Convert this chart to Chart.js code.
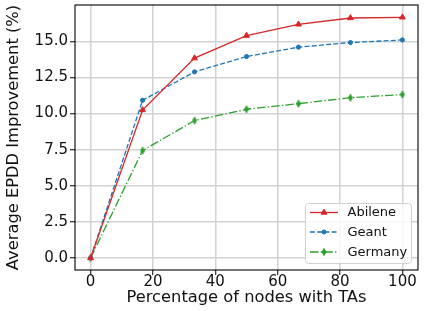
<!DOCTYPE html>
<html>
<head>
<meta charset="utf-8">
<script src="https://cdn.jsdelivr.net/npm/chart.js@4/dist/chart.umd.min.js"></script>
<style>
html,body{margin:0;padding:0;background:#fff;}
#wrap{width:427px;height:311px;position:relative;}
</style>
</head>
<body>
<div id="wrap"><canvas id="c" width="427" height="311"></canvas></div>
<script>
const xValues = [0, 16.67, 33.33, 50, 66.67, 83.33, 100];
const abilene = [0, 10.25, 13.84, 15.4, 16.18, 16.62, 16.67];
const geant = [0, 10.92, 12.89, 13.95, 14.6, 14.92, 15.1];
const germany = [0, 7.44, 9.52, 10.3, 10.69, 11.1, 11.32];
const seriesNames = ["Abilene", "Geant", "Germany"];
const xTicks = [0, 20, 40, 60, 80, 100];
const yTicks = [0, 2.5, 5, 7.5, 10, 12.5, 15];
const xLabel = "Percentage of nodes with TAs";
const yLabel = "Average EPDD Improvement (%)";

const FONT = "'DejaVu Sans'";
const TXT = '#111';

function thinDiamond(color){
  const c = document.createElement('canvas');
  c.width = 8; c.height = 10;
  const g = c.getContext('2d');
  g.fillStyle = color; g.strokeStyle = color; g.lineWidth = 1;
  g.beginPath();
  g.moveTo(4, 1.5); g.lineTo(6, 5); g.lineTo(4, 8.5); g.lineTo(2, 5); g.closePath();
  g.fill(); g.stroke();
  return c;
}

const colors = ['#d62728', '#1f77b4', '#2ca02c'];
const dashes = [[], [5, 2.2], [8.5, 2.2, 1.4, 2.2]];
const pts = ['triangle', 'circle', thinDiamond('#2ca02c')];
const radii = [3.4, 2.1, 4];
const vals = [abilene, geant, germany];

const datasets = vals.map((v, i) => ({
  label: seriesNames[i],
  data: xValues.map((x, j) => ({x: x, y: v[j]})),
  borderColor: colors[i],
  backgroundColor: colors[i],
  borderWidth: 1.3,
  borderDash: dashes[i],
  pointStyle: pts[i],
  pointRadius: radii[i],
  pointHoverRadius: radii[i],
  pointBorderWidth: 1,
  showLine: true,
  tension: 0,
  fill: false
}));

const framePlugin = {
  id: 'frame',
  afterDatasetsDraw(chart) {
    const {ctx, chartArea: a} = chart;
    ctx.save();
    ctx.strokeStyle = '#000';
    ctx.lineWidth = 1.1;
    ctx.strokeRect(a.left, a.top, a.right - a.left, a.bottom - a.top);
    // legend
    const bx = 305.5, by = 203.5, bw = 106, bh = 60, r = 3;
    ctx.fillStyle = 'rgba(255,255,255,0.8)';
    ctx.strokeStyle = '#d0d0d0';
    ctx.lineWidth = 1;
    ctx.beginPath();
    ctx.roundRect(bx, by, bw, bh, r);
    ctx.fill(); ctx.stroke();
    const rows = [212.5, 232, 252];
    chart.data.datasets.forEach((ds, i) => {
      const y = rows[i];
      ctx.strokeStyle = ds.borderColor;
      ctx.lineWidth = ds.borderWidth;
      ctx.setLineDash(ds.borderDash);
      ctx.beginPath();
      ctx.moveTo(310, y); ctx.lineTo(338, y);
      ctx.stroke();
      ctx.setLineDash([]);
      ctx.fillStyle = ds.backgroundColor;
      ctx.strokeStyle = ds.borderColor;
      ctx.lineWidth = 1;
      Chart.helpers.drawPoint(ctx, {pointStyle: ds.pointStyle, radius: ds.pointRadius, borderWidth: 1, rotation: 0}, 324, y);
      ctx.fillStyle = TXT;
      ctx.font = "13px " + FONT;
      ctx.textBaseline = 'middle';
      ctx.textAlign = 'left';
      ctx.fillText(ds.label, 347.5, y + 0.5);
    });
    ctx.restore();
  }
};

new Chart(document.getElementById('c'), {
  type: 'scatter',
  data: {datasets},
  options: {
    responsive: false,
    animation: false,
    devicePixelRatio: 1,
    layout: {padding: {top: 5, right: 9, left: 0, bottom: 0}},
    plugins: {legend: {display: false}, tooltip: {enabled: false}},
    scales: {
      x: {
        type: 'linear', min: -5, max: 105,
        afterBuildTicks: s => { s.ticks = xTicks.map(v => ({value: v})); },
        afterFit: s => { s.height = 41; s.paddingLeft = 0; s.paddingRight = 0; },
        ticks: {color: TXT, font: {family: FONT, size: 15}, padding: -2, maxRotation: 0,
          callback: v => String(v)},
        grid: {color: '#d2d2d2', lineWidth: 1.5, tickColor: '#000', tickLength: 5, tickWidth: 1},
        border: {display: false},
        title: {display: true, text: xLabel, color: TXT, font: {family: FONT, size: 16.3}, padding: {top: 0, bottom: 3}}
      },
      y: {
        type: 'linear', min: -0.83, max: 17.52,
        afterBuildTicks: s => { s.ticks = yTicks.map(v => ({value: v})); },
        afterFit: s => { s.width = 75; s.paddingTop = 0; s.paddingBottom = 0; },
        ticks: {color: TXT, font: {family: FONT, size: 15}, padding: 2,
          callback: v => Number(v).toFixed(1)},
        grid: {color: '#d2d2d2', lineWidth: 1.5, tickColor: '#000', tickLength: 5, tickWidth: 1},
        border: {display: false},
        title: {display: true, text: yLabel, color: TXT, font: {family: FONT, size: 16.3}, padding: {top: 4, bottom: 0}}
      }
    }
  },
  plugins: [framePlugin]
});
</script>
</body>
</html>
